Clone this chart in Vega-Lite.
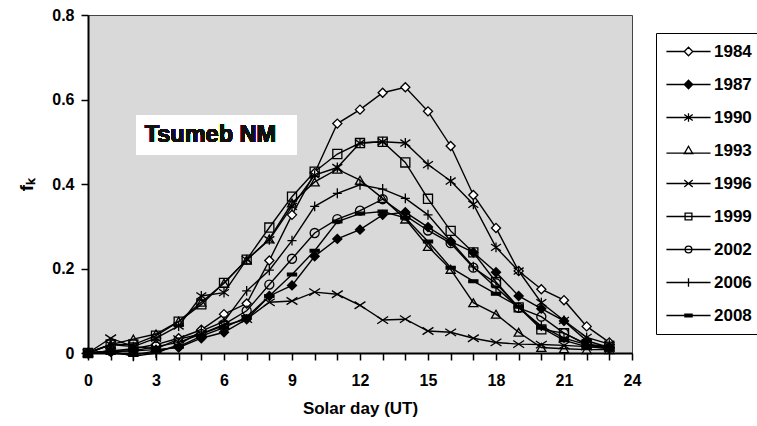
{
  "$schema": "https://vega.github.io/schema/vega-lite/v6.json",
  "width": 544,
  "height": 338,
  "autosize": {"type": "none"},
  "padding": {"left": 88, "top": 15, "right": 125, "bottom": 73},
  "background": "white",
  "config": {
    "view": {"fill": "#d9d9d9", "stroke": "#444444", "strokeWidth": 1},
    "font": "Liberation Sans",
    "axis": {
      "grid": false,
      "domainColor": "black",
      "domainWidth": 2,
      "tickColor": "black",
      "tickWidth": 1.5,
      "tickSize": 7,
      "labelFont": "Liberation Sans",
      "labelFontWeight": "bold",
      "labelFontSize": 16,
      "labelColor": "black",
      "labelOverlap": false,
      "titleFont": "Liberation Sans",
      "titleFontWeight": "bold",
      "titleFontSize": 17,
      "titleColor": "black"
    }
  },
  "data": {
    "values": [
      {"year":"1984","hour":0,"fk":0},{"year":"1984","hour":1,"fk":0.005},{"year":"1984","hour":2,"fk":0.01},{"year":"1984","hour":3,"fk":0.02},{"year":"1984","hour":4,"fk":0.035},{"year":"1984","hour":5,"fk":0.055},{"year":"1984","hour":6,"fk":0.092},{"year":"1984","hour":7,"fk":0.117},{"year":"1984","hour":8,"fk":0.219},{"year":"1984","hour":9,"fk":0.327},{"year":"1984","hour":10,"fk":0.426},{"year":"1984","hour":11,"fk":0.543},{"year":"1984","hour":12,"fk":0.576},{"year":"1984","hour":13,"fk":0.616},{"year":"1984","hour":14,"fk":0.629},{"year":"1984","hour":15,"fk":0.572},{"year":"1984","hour":16,"fk":0.49},{"year":"1984","hour":17,"fk":0.374},{"year":"1984","hour":18,"fk":0.296},{"year":"1984","hour":19,"fk":0.194},{"year":"1984","hour":20,"fk":0.151},{"year":"1984","hour":21,"fk":0.125},{"year":"1984","hour":22,"fk":0.063},{"year":"1984","hour":23,"fk":0.025},
      {"year":"1987","hour":0,"fk":0},{"year":"1987","hour":1,"fk":0.003},{"year":"1987","hour":2,"fk":0.005},{"year":"1987","hour":3,"fk":0.008},{"year":"1987","hour":4,"fk":0.013},{"year":"1987","hour":5,"fk":0.035},{"year":"1987","hour":6,"fk":0.049},{"year":"1987","hour":7,"fk":0.08},{"year":"1987","hour":8,"fk":0.135},{"year":"1987","hour":9,"fk":0.16},{"year":"1987","hour":10,"fk":0.229},{"year":"1987","hour":11,"fk":0.27},{"year":"1987","hour":12,"fk":0.292},{"year":"1987","hour":13,"fk":0.327},{"year":"1987","hour":14,"fk":0.333},{"year":"1987","hour":15,"fk":0.298},{"year":"1987","hour":16,"fk":0.264},{"year":"1987","hour":17,"fk":0.238},{"year":"1987","hour":18,"fk":0.191},{"year":"1987","hour":19,"fk":0.135},{"year":"1987","hour":20,"fk":0.105},{"year":"1987","hour":21,"fk":0.076},{"year":"1987","hour":22,"fk":0.029},{"year":"1987","hour":23,"fk":0.013},
      {"year":"1990","hour":0,"fk":0},{"year":"1990","hour":1,"fk":0.02},{"year":"1990","hour":2,"fk":0.015},{"year":"1990","hour":3,"fk":0.035},{"year":"1990","hour":4,"fk":0.064},{"year":"1990","hour":5,"fk":0.135},{"year":"1990","hour":6,"fk":0.143},{"year":"1990","hour":7,"fk":0.221},{"year":"1990","hour":8,"fk":0.268},{"year":"1990","hour":9,"fk":0.347},{"year":"1990","hour":10,"fk":0.421},{"year":"1990","hour":11,"fk":0.439},{"year":"1990","hour":12,"fk":0.497},{"year":"1990","hour":13,"fk":0.5},{"year":"1990","hour":14,"fk":0.497},{"year":"1990","hour":15,"fk":0.446},{"year":"1990","hour":16,"fk":0.407},{"year":"1990","hour":17,"fk":0.352},{"year":"1990","hour":18,"fk":0.25},{"year":"1990","hour":19,"fk":0.194},{"year":"1990","hour":20,"fk":0.119},{"year":"1990","hour":21,"fk":0.077},{"year":"1990","hour":22,"fk":0.037},{"year":"1990","hour":23,"fk":0.021},
      {"year":"1993","hour":0,"fk":0},{"year":"1993","hour":1,"fk":0.02},{"year":"1993","hour":2,"fk":0.033},{"year":"1993","hour":3,"fk":0.045},{"year":"1993","hour":4,"fk":0.075},{"year":"1993","hour":5,"fk":0.12},{"year":"1993","hour":6,"fk":0.165},{"year":"1993","hour":7,"fk":0.22},{"year":"1993","hour":8,"fk":0.27},{"year":"1993","hour":9,"fk":0.355},{"year":"1993","hour":10,"fk":0.405},{"year":"1993","hour":11,"fk":0.435},{"year":"1993","hour":12,"fk":0.409},{"year":"1993","hour":13,"fk":0.366},{"year":"1993","hour":14,"fk":0.317},{"year":"1993","hour":15,"fk":0.252},{"year":"1993","hour":16,"fk":0.198},{"year":"1993","hour":17,"fk":0.119},{"year":"1993","hour":18,"fk":0.092},{"year":"1993","hour":19,"fk":0.049},{"year":"1993","hour":20,"fk":0.013},{"year":"1993","hour":21,"fk":0.01},{"year":"1993","hour":22,"fk":0.008},{"year":"1993","hour":23,"fk":0.008},
      {"year":"1996","hour":0,"fk":0},{"year":"1996","hour":1,"fk":0.035},{"year":"1996","hour":2,"fk":0.015},{"year":"1996","hour":3,"fk":0.01},{"year":"1996","hour":4,"fk":0.033},{"year":"1996","hour":5,"fk":0.045},{"year":"1996","hour":6,"fk":0.065},{"year":"1996","hour":7,"fk":0.08},{"year":"1996","hour":8,"fk":0.12},{"year":"1996","hour":9,"fk":0.123},{"year":"1996","hour":10,"fk":0.144},{"year":"1996","hour":11,"fk":0.139},{"year":"1996","hour":12,"fk":0.113},{"year":"1996","hour":13,"fk":0.078},{"year":"1996","hour":14,"fk":0.08},{"year":"1996","hour":15,"fk":0.052},{"year":"1996","hour":16,"fk":0.049},{"year":"1996","hour":17,"fk":0.035},{"year":"1996","hour":18,"fk":0.025},{"year":"1996","hour":19,"fk":0.021},{"year":"1996","hour":20,"fk":0.02},{"year":"1996","hour":21,"fk":0.018},{"year":"1996","hour":22,"fk":0.015},{"year":"1996","hour":23,"fk":0.012},
      {"year":"1999","hour":0,"fk":0},{"year":"1999","hour":1,"fk":0.02},{"year":"1999","hour":2,"fk":0.02},{"year":"1999","hour":3,"fk":0.041},{"year":"1999","hour":4,"fk":0.074},{"year":"1999","hour":5,"fk":0.115},{"year":"1999","hour":6,"fk":0.166},{"year":"1999","hour":7,"fk":0.221},{"year":"1999","hour":8,"fk":0.297},{"year":"1999","hour":9,"fk":0.37},{"year":"1999","hour":10,"fk":0.429},{"year":"1999","hour":11,"fk":0.471},{"year":"1999","hour":12,"fk":0.497},{"year":"1999","hour":13,"fk":0.5},{"year":"1999","hour":14,"fk":0.451},{"year":"1999","hour":15,"fk":0.365},{"year":"1999","hour":16,"fk":0.289},{"year":"1999","hour":17,"fk":0.238},{"year":"1999","hour":18,"fk":0.168},{"year":"1999","hour":19,"fk":0.108},{"year":"1999","hour":20,"fk":0.056},{"year":"1999","hour":21,"fk":0.047},{"year":"1999","hour":22,"fk":0.021},{"year":"1999","hour":23,"fk":0.015},
      {"year":"2002","hour":0,"fk":0},{"year":"2002","hour":1,"fk":0.005},{"year":"2002","hour":2,"fk":0.005},{"year":"2002","hour":3,"fk":0.015},{"year":"2002","hour":4,"fk":0.025},{"year":"2002","hour":5,"fk":0.045},{"year":"2002","hour":6,"fk":0.068},{"year":"2002","hour":7,"fk":0.1},{"year":"2002","hour":8,"fk":0.162},{"year":"2002","hour":9,"fk":0.223},{"year":"2002","hour":10,"fk":0.284},{"year":"2002","hour":11,"fk":0.317},{"year":"2002","hour":12,"fk":0.337},{"year":"2002","hour":13,"fk":0.364},{"year":"2002","hour":14,"fk":0.325},{"year":"2002","hour":15,"fk":0.29},{"year":"2002","hour":16,"fk":0.26},{"year":"2002","hour":17,"fk":0.202},{"year":"2002","hour":18,"fk":0.165},{"year":"2002","hour":19,"fk":0.107},{"year":"2002","hour":20,"fk":0.086},{"year":"2002","hour":21,"fk":0.047},{"year":"2002","hour":22,"fk":0.02},{"year":"2002","hour":23,"fk":0.012},
      {"year":"2006","hour":0,"fk":0},{"year":"2006","hour":1,"fk":0.005},{"year":"2006","hour":2,"fk":-0.008},{"year":"2006","hour":3,"fk":0},{"year":"2006","hour":4,"fk":0.02},{"year":"2006","hour":5,"fk":0.052},{"year":"2006","hour":6,"fk":0.075},{"year":"2006","hour":7,"fk":0.147},{"year":"2006","hour":8,"fk":0.196},{"year":"2006","hour":9,"fk":0.266},{"year":"2006","hour":10,"fk":0.347},{"year":"2006","hour":11,"fk":0.378},{"year":"2006","hour":12,"fk":0.398},{"year":"2006","hour":13,"fk":0.388},{"year":"2006","hour":14,"fk":0.366},{"year":"2006","hour":15,"fk":0.327},{"year":"2006","hour":16,"fk":0.265},{"year":"2006","hour":17,"fk":0.204},{"year":"2006","hour":18,"fk":0.155},{"year":"2006","hour":19,"fk":0.107},{"year":"2006","hour":20,"fk":0.064},{"year":"2006","hour":21,"fk":0.035},{"year":"2006","hour":22,"fk":0.02},{"year":"2006","hour":23,"fk":0.01},
      {"year":"2008","hour":0,"fk":0},{"year":"2008","hour":1,"fk":0},{"year":"2008","hour":2,"fk":-0.005},{"year":"2008","hour":3,"fk":0.005},{"year":"2008","hour":4,"fk":0.015},{"year":"2008","hour":5,"fk":0.04},{"year":"2008","hour":6,"fk":0.06},{"year":"2008","hour":7,"fk":0.085},{"year":"2008","hour":8,"fk":0.135},{"year":"2008","hour":9,"fk":0.186},{"year":"2008","hour":10,"fk":0.242},{"year":"2008","hour":11,"fk":0.311},{"year":"2008","hour":12,"fk":0.33},{"year":"2008","hour":13,"fk":0.335},{"year":"2008","hour":14,"fk":0.32},{"year":"2008","hour":15,"fk":0.264},{"year":"2008","hour":16,"fk":0.202},{"year":"2008","hour":17,"fk":0.17},{"year":"2008","hour":18,"fk":0.14},{"year":"2008","hour":19,"fk":0.11},{"year":"2008","hour":20,"fk":0.06},{"year":"2008","hour":21,"fk":0.03},{"year":"2008","hour":22,"fk":0.015},{"year":"2008","hour":23,"fk":0.01}
    ]
  },
  "resolve": {"scale": {"shape": "independent"}, "legend": {"shape": "independent"}, "axis": {"x": "independent"}},
  "layer": [
    {
      "mark": {"type": "line", "stroke": "black", "strokeWidth": 1.4, "clip": false},
      "encoding": {
        "x": {"field": "hour", "type": "quantitative", "scale": {"domain": [0, 24], "nice": false},
              "axis": {"orient": "bottom", "title": "Solar day (UT)", "values": [0,3,6,9,12,15,18,21,24],
                       "labelOverlap": false, "labelPadding": 12, "titlePadding": 12, "labelFlush": false}},
        "y": {"field": "fk", "type": "quantitative", "scale": {"domain": [0, 0.8], "nice": false},
              "axis": {"title": "fₖ", "titleFontSize": 19, "values": [0, 0.2, 0.4, 0.6, 0.8], "format": ".1~f", "labelPadding": 7, "titlePadding": 15, "labelFlush": false}},
        "detail": {"field": "year", "type": "nominal"}
      }
    },
    {
      "mark": {"type": "point", "stroke": "black", "strokeWidth": 1.3, "opacity": 1, "size": 82, "clip": false},
      "encoding": {
        "x": {"field": "hour", "type": "quantitative",
              "axis": {"orient": "bottom", "title": null, "labels": false, "domain": false, "values": [1,2,4,5,7,8,10,11,13,14,16,17,19,20,22,23]}},
        "y": {"field": "fk", "type": "quantitative", "title": "fₖ"},
        "shape": {
          "field": "year", "type": "nominal",
          "scale": {
            "domain": ["1984","1987","1990","1993","1996","1999","2002","2006","2008"],
            "range": ["diamond","diamond","M0,-1.1L0,1.1M-1.1,-0.75L1.1,0.75M-1.1,0.75L1.1,-0.75","triangle-up","M-1.2,-0.8L1.2,0.8M-1.2,0.8L1.2,-0.8","square","circle","M-1,0L1,0M0,-1.1L0,1.1","M-1,-0.3L1,-0.3L1,0.3L-1,0.3Z"]
          },
          "legend": null
        },
        "fill": {
          "field": "year", "type": "nominal",
          "scale": {
            "domain": ["1984","1987","1990","1993","1996","1999","2002","2006","2008"],
            "range": ["white","black","transparent","transparent","transparent","transparent","transparent","transparent","black"]
          },
          "legend": null
        }
      }
    },
    {
      "mark": {"type": "point", "opacity": 0, "stroke": "black", "strokeWidth": 1.3, "size": 72, "clip": false},
      "encoding": {
        "x": {"field": "hour", "type": "quantitative", "axis": null},
        "y": {"field": "fk", "type": "quantitative", "title": "fₖ"},
        "shape": {
          "field": "year", "type": "nominal",
          "scale": {
            "domain": ["1984","1987","1990","1993","1996","1999","2002","2006","2008"],
            "range": [
              "M-5.2,0L-1,0M1,0L5.2,0M-1,0L0,-1L1,0L0,1Z",
              "M-5.2,0L5.2,0M-1,0L0,-1L1,0L0,1ZM-0.7,0L0,-0.7L0.7,0L0,0.7ZM-0.4,0L0,-0.4L0.4,0L0,0.4ZM-0.15,0L0,-0.15L0.15,0L0,0.15Z",
              "M-5.2,0L5.2,0M0,-1L0,1M-1,-0.7L1,0.7M-1,0.7L1,-0.7",
              "M-5.2,0.6L5.2,0.6M0,-1L1,0.75L-1,0.75Z",
              "M-5.2,0L5.2,0M-1,-0.8L1,0.8M-1,0.8L1,-0.8",
              "M-5.2,0L5.2,0M-0.8,-0.8L0.8,-0.8L0.8,0.8L-0.8,0.8Z",
              "M-5.2,0L5.2,0M-0.8,0A0.8,0.8 0 1,0 0.8,0A0.8,0.8 0 1,0 -0.8,0Z",
              "M-5.2,0L5.2,0M0,-1L0,1",
              "M-5.2,0L5.2,0M-1,-0.3L1,-0.3M-1,-0.15L1,-0.15M-1,0.15L1,0.15M-1,0.3L1,0.3"
            ]
          },
          "legend": {
            "title": null,
            "orient": "none",
            "legendX": 568,
            "legendY": 18,
            "padding": 10,
            "strokeColor": "black",
            "fillColor": "white",
            "symbolSize": 72,
            "symbolOffset": 14,
            "labelOffset": 17,
            "rowPadding": 15,
            "symbolStrokeColor": "black",
            "symbolStrokeWidth": 1.3,
            "symbolOpacity": 1,
            "labelFont": "Liberation Sans",
            "labelFontWeight": "bold",
            "labelFontSize": 17,
            "labelColor": "black"
          }
        }
      }
    },
    {
      "mark": {"type": "rect", "fill": "white"},
      "encoding": {
        "x": {"datum": 2.12, "type": "quantitative", "axis": null},
        "x2": {"datum": 9.22},
        "y": {"datum": 0.562, "type": "quantitative"},
        "y2": {"datum": 0.47}
      }
    },
    {
      "mark": {"type": "text", "text": "Tsumeb NM", "align": "left", "baseline": "middle", "font": "Liberation Sans", "fontWeight": "bold", "fontSize": 23.5, "fill": "#111111"},
      "encoding": {
        "x": {"datum": 2.5, "type": "quantitative", "axis": null},
        "y": {"datum": 0.516, "type": "quantitative"}
      }
    }
  ]
}
